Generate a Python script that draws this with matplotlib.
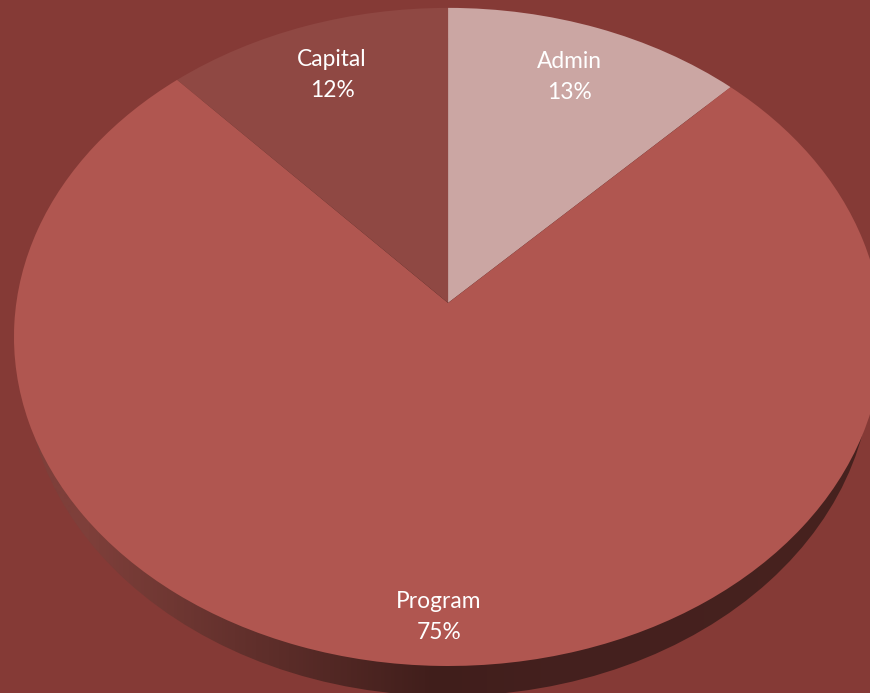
import numpy as np
from matplotlib import pyplot as plt
from matplotlib.colors import LinearSegmentedColormap
from matplotlib.patches import Circle
from matplotlib.transforms import Affine2D, Transform

plt.rcParams['font.family'] = ['Lato', 'DejaVu Sans']

# clockwise from 12 o'clock, shares
categories = ['Admin', 'Program', 'Capital']
shares = [12.4, 75.8, 11.8]
pct_labels = ['13%', '75%', '12%']
colors = ['#cba6a3', '#b05650', '#8f4843']

BG = '#853a36'
APEX_X, APEX_Y = 448, 303
TILT = 0.1033
SCALE_X, SCALE_Y = 431.7, 325.5
DEPTH = 30
SIDE_NARROW = 0.975


# the pie is lying back in perspective, so its tip sits above the ellipse centre
class Perspective(Transform):
    input_dims = 2
    output_dims = 2
    is_separable = False

    def transform_non_affine(self, values):
        values = np.asarray(values)
        w = 1 + TILT * values[:, 1]
        return np.column_stack([APEX_X + SCALE_X * values[:, 0] / w,
                                APEX_Y - SCALE_Y * values[:, 1] / w])


fig = plt.figure(figsize=(8.701, 6.931), dpi=100, facecolor=BG)
ax = fig.add_axes([0, 0, 1, 1])
ax.set_facecolor(BG)

to_pixels = Perspective() + ax.transData

# side of the disc: same shape pushed down and a bit narrower, shaded from left to right
side_cmap = LinearSegmentedColormap.from_list(
    'side', [(0, '#7e3f3a'), (0.1, '#7e3f3a'), (0.5, '#401e1b'), (0.62, '#44201e'), (1, '#47221f')])
side = ax.imshow(np.linspace(0, 1, 870).reshape(1, -1), cmap=side_cmap, aspect='auto',
                 extent=(0, 870, 693, 0), zorder=1)
side_move = (Affine2D().translate(-APEX_X, 0).scale(SIDE_NARROW, 1)
             .translate(APEX_X, DEPTH))
side_shape = Circle((0, 0), 1, transform=Perspective() + side_move + ax.transData,
                    facecolor='none', edgecolor='none')
ax.add_patch(side_shape)
side.set_clip_path(side_shape)

wedges, _ = ax.pie(shares, startangle=90, counterclock=False, colors=colors)
for w in wedges:
    w.set_transform(to_pixels)
    w.set_zorder(2)
    w.set_clip_on(False)
    w.set_edgecolor('none')

ax.set_aspect('auto')
ax.set_xlim(0, 870)
ax.set_ylim(693, 0)
ax.axis('off')

label_xy = [(569, 77), (439, 617), (332, 75)]
for name, pct, (x, y) in zip(categories, pct_labels, label_xy):
    ax.text(x, y, name + '\n' + pct, color='white', fontsize=16.4, ha='center', va='center',
            linespacing=1.58, zorder=3)

fig.savefig('out.png', dpi=100, facecolor=BG)
